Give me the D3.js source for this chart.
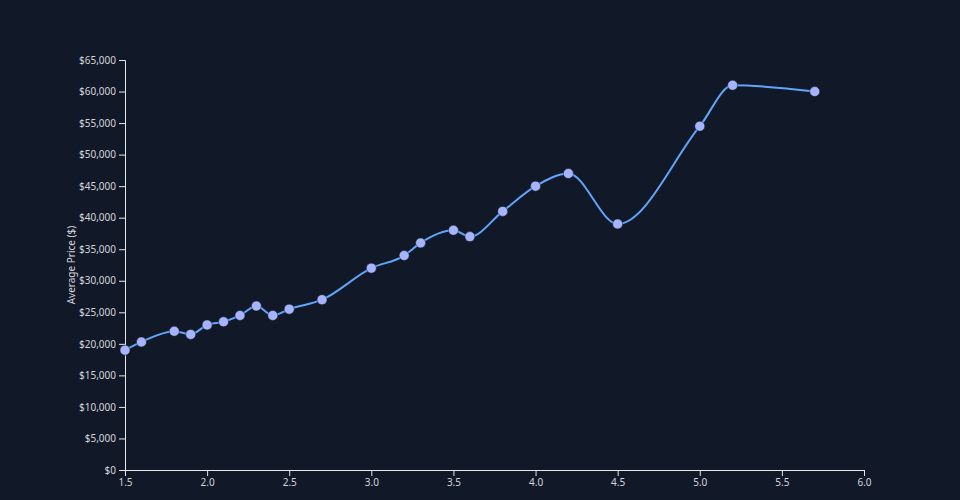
<!DOCTYPE html>
<head>
<meta charset="utf-8">
<style>
  body { margin: 0; background-color: #111827; }
  svg { background-color: #111827; font-family: 'Noto Sans', 'Open Sans', sans-serif; }
  .axis text { fill: #d1d5db; font-size: 10px; font-family: 'Noto Sans', 'Open Sans', sans-serif; }
  .axis line, .axis path { stroke: #e5e7eb; }
  .axisLabel { fill: #d1d5db; font-size: 10px; }
</style>
</head>
<body>
<script src="https://d3js.org/d3.v7.min.js"></script>
<script>
// DATA
const engineSize = [1.5, 1.6, 1.8, 1.9, 2.0, 2.1, 2.2, 2.3, 2.4, 2.5, 2.7, 3.0, 3.2, 3.3, 3.5, 3.6, 3.8, 4.0, 4.2, 4.5, 5.0, 5.2, 5.7];
const avgPrice = [19000, 20300, 22000, 21500, 23000, 23500, 24500, 26000, 24500, 25500, 27000, 32000, 34000, 36000, 38000, 37000, 41000, 45000, 47000, 39000, 54500, 61000, 60000];
const xTicks = [1.5, 2.0, 2.5, 3.0, 3.5, 4.0, 4.5, 5.0, 5.5, 6.0];
const yTicks = [0, 5000, 10000, 15000, 20000, 25000, 30000, 35000, 40000, 45000, 50000, 55000, 60000, 65000];

const data = engineSize.map((x, i) => ({x: x, y: avgPrice[i]}));

// DIMENSIONS
const width = 960, height = 500;
const margin = {top: 60, right: 96, bottom: 30, left: 125};

const svg = d3.select('body').append('svg')
  .attr('width', width)
  .attr('height', height);

// SCALES
const xScale = d3.scaleLinear([1.5, 6.0], [margin.left, width - margin.right]);
const yScale = d3.scaleLinear([0, 65000], [height - margin.bottom, margin.top]);

// AXES
const xAxis = d3.axisBottom(xScale).tickValues(xTicks).tickFormat(d3.format('.1f')).tickSizeOuter(6);
const yAxis = d3.axisLeft(yScale).tickValues(yTicks).tickFormat(d => '$' + d3.format(',')(d)).tickSizeOuter(6);

svg.append('g')
  .attr('class', 'axis')
  .attr('transform', `translate(0,${height - margin.bottom})`)
  .call(xAxis);

svg.append('g')
  .attr('class', 'axis')
  .attr('transform', `translate(${margin.left},0)`)
  .call(yAxis);

// Y LABEL
svg.append('text')
  .attr('class', 'axisLabel')
  .attr('transform', `translate(75,${(margin.top + height - margin.bottom) / 2}) rotate(-90)`)
  .attr('text-anchor', 'middle')
  .text('Average Price ($)');

// LINE
const line = d3.line()
  .curve(d3.curveMonotoneX)
  .x(d => xScale(d.x))
  .y(d => yScale(d.y));

svg.append('path')
  .datum(data)
  .attr('d', line)
  .attr('fill', 'none')
  .attr('stroke', '#60a5fa')
  .attr('stroke-width', 2);

// POINTS
svg.selectAll('circle')
  .data(data)
  .join('circle')
  .attr('cx', d => xScale(d.x))
  .attr('cy', d => yScale(d.y))
  .attr('r', 5)
  .attr('fill', '#a5b4fc')
  .attr('stroke', '#111827')
  .attr('stroke-width', 0.5);
</script>
</body>
